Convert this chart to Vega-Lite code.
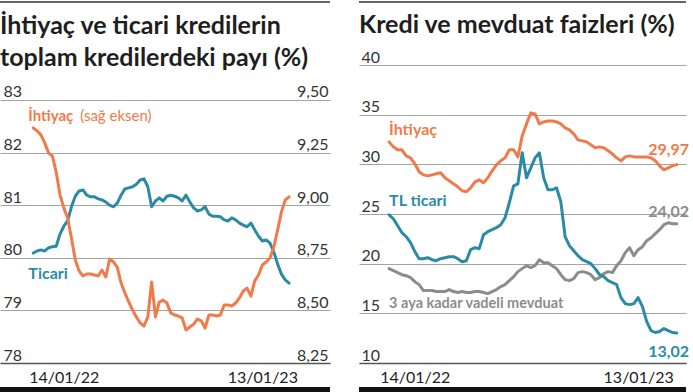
{
  "$schema": "https://vega.github.io/schema/vega-lite/v6.json",
  "background": "white",
  "padding": {"left": 0, "top": 1, "right": 0, "bottom": 0},
  "autosize": {"type": "pad"},
  "spacing": 29,
  "config": {
    "view": {"stroke": null},
    "axis": {"labelFont": "Lato", "labelFontSize": 16, "labelColor": "#333333", "ticks": false, "tickSize": 0, "domain": false},
    "title": {"font": "Lato", "fontSize": 25, "fontWeight": "bold", "color": "#1e1e1e", "anchor": "start", "offset": 0, "baseline": "alphabetic"}
  },
  "datasets": {
    "left": [
      {"d":"2021-11-19","t":80.09,"i":9.367},{"d":"2021-11-26","t":80.13,"i":9.353},{"d":"2021-12-03","t":80.15,"i":9.334},{"d":"2021-12-10","t":80.13,"i":9.296},{"d":"2021-12-17","t":80.19,"i":9.248},{"d":"2021-12-24","t":80.21,"i":9.234},{"d":"2021-12-31","t":80.22,"i":9.158},{"d":"2022-01-07","t":80.45,"i":9.049},{"d":"2022-01-14","t":80.60,"i":8.987},{"d":"2022-01-21","t":80.70,"i":8.939},
      {"d":"2022-01-28","t":80.97,"i":8.844},{"d":"2022-02-04","t":81.17,"i":8.740},{"d":"2022-02-11","t":81.27,"i":8.687},{"d":"2022-02-18","t":81.29,"i":8.664},{"d":"2022-02-25","t":81.19,"i":8.673},{"d":"2022-03-04","t":81.16,"i":8.673},{"d":"2022-03-11","t":81.16,"i":8.668},{"d":"2022-03-18","t":81.12,"i":8.664},{"d":"2022-03-25","t":81.10,"i":8.692},{"d":"2022-04-01","t":81.06,"i":8.659},
      {"d":"2022-04-08","t":81.00,"i":8.744},{"d":"2022-04-15","t":80.97,"i":8.730},{"d":"2022-04-22","t":81.04,"i":8.706},{"d":"2022-04-29","t":81.19,"i":8.630},{"d":"2022-05-06","t":81.31,"i":8.583},{"d":"2022-05-13","t":81.33,"i":8.540},{"d":"2022-05-20","t":81.35,"i":8.502},{"d":"2022-05-27","t":81.40,"i":8.469},{"d":"2022-06-03","t":81.48,"i":8.440},{"d":"2022-06-10","t":81.50,"i":8.426},
      {"d":"2022-06-17","t":81.35,"i":8.469},{"d":"2022-06-24","t":80.97,"i":8.635},{"d":"2022-07-01","t":81.08,"i":8.469},{"d":"2022-07-08","t":81.14,"i":8.540},{"d":"2022-07-15","t":81.08,"i":8.549},{"d":"2022-07-22","t":81.17,"i":8.535},{"d":"2022-07-29","t":81.19,"i":8.488},{"d":"2022-08-05","t":81.17,"i":8.478},{"d":"2022-08-12","t":81.14,"i":8.473},{"d":"2022-08-19","t":81.08,"i":8.464},
      {"d":"2022-08-26","t":81.19,"i":8.407},{"d":"2022-09-02","t":81.06,"i":8.421},{"d":"2022-09-09","t":80.95,"i":8.435},{"d":"2022-09-16","t":80.89,"i":8.459},{"d":"2022-09-23","t":80.91,"i":8.450},{"d":"2022-09-30","t":80.97,"i":8.416},{"d":"2022-10-07","t":80.83,"i":8.478},{"d":"2022-10-14","t":80.79,"i":8.478},{"d":"2022-10-21","t":80.79,"i":8.473},{"d":"2022-10-28","t":80.78,"i":8.478},
      {"d":"2022-11-04","t":80.72,"i":8.526},{"d":"2022-11-11","t":80.70,"i":8.526},{"d":"2022-11-18","t":80.76,"i":8.521},{"d":"2022-11-25","t":80.72,"i":8.535},{"d":"2022-12-02","t":80.66,"i":8.559},{"d":"2022-12-09","t":80.62,"i":8.592},{"d":"2022-12-16","t":80.59,"i":8.606},{"d":"2022-12-23","t":80.66,"i":8.568},{"d":"2022-12-30","t":80.53,"i":8.640},{"d":"2023-01-06","t":80.41,"i":8.668},
      {"d":"2023-01-13","t":80.32,"i":8.716},{"d":"2023-01-20","t":80.34,"i":8.730},{"d":"2023-01-27","t":80.28,"i":8.749},{"d":"2023-02-03","t":80.11,"i":8.801},{"d":"2023-02-10","t":79.88,"i":8.882},{"d":"2023-02-17","t":79.69,"i":8.968},{"d":"2023-02-24","t":79.58,"i":9.025},{"d":"2023-03-03","t":79.52,"i":9.039}
    ],
    "right": [
      {"d":"2021-12-03","i":32.26,"t":24.92,"m":19.50},{"d":"2021-12-10","i":31.76,"t":24.52,"m":19.30},{"d":"2021-12-17","i":31.46,"t":23.82,"m":19.10},{"d":"2021-12-24","i":31.46,"t":23.12,"m":18.89},{"d":"2021-12-31","i":30.85,"t":22.71,"m":18.79},{"d":"2022-01-07","i":30.65,"t":22.11,"m":18.59},{"d":"2022-01-14","i":30.05,"t":21.21,"m":18.19},{"d":"2022-01-21","i":29.25,"t":20.50,"m":17.89},{"d":"2022-01-28","i":28.94,"t":20.50,"m":17.29},{"d":"2022-02-04","i":28.84,"t":20.60,"m":17.29},
      {"d":"2022-02-11","i":28.94,"t":20.40,"m":17.29},{"d":"2022-02-18","i":29.05,"t":20.30,"m":17.19},{"d":"2022-02-25","i":29.15,"t":20.50,"m":17.19},{"d":"2022-03-04","i":28.64,"t":20.60,"m":17.19},{"d":"2022-03-11","i":28.34,"t":20.70,"m":17.39},{"d":"2022-03-18","i":28.04,"t":20.70,"m":17.19},{"d":"2022-03-25","i":27.74,"t":20.50,"m":17.09},{"d":"2022-04-01","i":27.34,"t":20.20,"m":17.19},{"d":"2022-04-08","i":27.24,"t":20.30,"m":17.09},{"d":"2022-04-15","i":27.64,"t":21.41,"m":17.09},
      {"d":"2022-04-22","i":28.24,"t":21.61,"m":17.19},{"d":"2022-04-29","i":28.44,"t":21.51,"m":17.19},{"d":"2022-05-06","i":28.14,"t":22.91,"m":17.09},{"d":"2022-05-13","i":28.64,"t":23.22,"m":16.98},{"d":"2022-05-20","i":29.35,"t":23.42,"m":17.19},{"d":"2022-05-27","i":29.95,"t":23.62,"m":17.39},{"d":"2022-06-03","i":30.35,"t":23.92,"m":17.69},{"d":"2022-06-10","i":30.65,"t":24.62,"m":17.89},{"d":"2022-06-17","i":31.46,"t":26.13,"m":18.29},{"d":"2022-06-24","i":31.46,"t":27.84,"m":18.69},
      {"d":"2022-07-01","i":30.75,"t":28.04,"m":19.20},{"d":"2022-07-08","i":32.86,"t":31.16,"m":19.50},{"d":"2022-07-15","i":34.07,"t":28.64,"m":19.80},{"d":"2022-07-22","i":35.18,"t":29.65,"m":19.60},{"d":"2022-07-29","i":35.08,"t":30.65,"m":19.80},{"d":"2022-08-05","i":34.07,"t":31.16,"m":20.40},{"d":"2022-08-12","i":34.27,"t":28.64,"m":20.10},{"d":"2022-08-19","i":34.37,"t":27.44,"m":20.10},{"d":"2022-08-26","i":34.37,"t":27.44,"m":19.80},{"d":"2022-09-02","i":34.27,"t":27.64,"m":19.50},
      {"d":"2022-09-09","i":34.07,"t":26.23,"m":18.89},{"d":"2022-09-16","i":33.67,"t":22.71,"m":18.39},{"d":"2022-09-23","i":33.47,"t":21.81,"m":18.29},{"d":"2022-09-30","i":33.07,"t":21.31,"m":18.49},{"d":"2022-10-07","i":32.46,"t":20.80,"m":19.10},{"d":"2022-10-14","i":32.36,"t":20.40,"m":19.20},{"d":"2022-10-21","i":32.26,"t":20.20,"m":19.10},{"d":"2022-10-28","i":31.96,"t":20.00,"m":18.89},{"d":"2022-11-04","i":31.66,"t":19.50,"m":18.39},{"d":"2022-11-11","i":31.76,"t":18.89,"m":18.59},
      {"d":"2022-11-18","i":31.66,"t":18.69,"m":18.99},{"d":"2022-11-25","i":31.36,"t":18.29,"m":19.20},{"d":"2022-12-02","i":31.06,"t":18.09,"m":19.10},{"d":"2022-12-09","i":30.65,"t":17.89,"m":19.80},{"d":"2022-12-16","i":30.35,"t":16.58,"m":20.30},{"d":"2022-12-23","i":30.75,"t":15.98,"m":21.11},{"d":"2022-12-30","i":30.85,"t":15.88,"m":21.61},{"d":"2023-01-06","i":30.75,"t":15.98,"m":20.80},{"d":"2023-01-13","i":30.75,"t":16.58,"m":21.41},{"d":"2023-01-20","i":30.75,"t":15.68,"m":21.71},
      {"d":"2023-01-27","i":30.75,"t":14.17,"m":22.31},{"d":"2023-02-03","i":30.65,"t":13.27,"m":22.61},{"d":"2023-02-10","i":30.35,"t":13.07,"m":23.02},{"d":"2023-02-17","i":29.85,"t":13.17,"m":23.42},{"d":"2023-02-24","i":29.45,"t":13.47,"m":23.92},{"d":"2023-03-03","i":29.65,"t":13.27,"m":24.12},{"d":"2023-03-10","i":29.85,"t":13.07,"m":24.02},{"d":"2023-03-17","i":29.97,"t":13.02,"m":24.02}
    ]
  },
  "hconcat": [
    {
      "width": 330,
      "height": 298,
      "title": {"text": ["İhtiyaç ve ticari kredilerin", "toplam kredilerdeki payı (%)"], "lineHeight": 32, "dy": 73.5},
      "layer": [
        {
          "layer": [
            {
              "data": {"name": "left"},
              "mark": {"type": "line", "color": "#2b8ba6", "strokeWidth": 3, "strokeJoin": "round", "strokeCap": "round"},
              "encoding": {
                "x": {"field": "d", "type": "temporal", "title": null,
                  "scale": {"type": "utc", "domain": [{"year": 2021, "month": 9, "date": 19, "utc": true}, {"year": 2023, "month": 5, "date": 17, "utc": true}]},
                  "axis": {"values": [{"year": 2022, "month": 1, "date": 14, "utc": true}, {"year": 2023, "month": 1, "date": 13, "utc": true}], "labelExpr": "utcFormat(datum.value, '%d/%m/%y')", "domain": true, "domainColor": "#555555", "domainWidth": 1.5, "grid": false, "labelPadding": 6, "labelColor": "#222222", "zindex": 1}},
                "y": {"field": "t", "type": "quantitative", "title": null,
                  "scale": {"domain": [78, 83.665], "nice": false, "zero": false},
                  "axis": {"orient": "left", "values": [78, 79, 80, 81, 82, 83], "grid": true, "gridColor": "#a3a3a3", "gridWidth": 1, "labelAlign": "left", "labelPadding": -3, "labelBaseline": "alphabetic", "labelOffset": -3}}
              }
            },
            {
              "data": {"values": [{}]},
              "mark": {"type": "rect", "color": "#333333"},
              "encoding": {"y": {"datum": 84.848}, "y2": {"datum": 84.877}}
            },
            {
              "data": {"values": [{}]},
              "mark": {"type": "rect", "color": "#111111"},
              "encoding": {"y": {"datum": 77.43}, "y2": {"datum": 77.544}}
            },
            {
              "data": {"values": [{}]},
              "mark": {"type": "text", "text": "İhtiyaç", "font": "Lato", "fontSize": 15, "fontWeight": "bold", "color": "#f07a4a", "align": "left", "baseline": "alphabetic"},
              "encoding": {"x": {"datum": {"year": 2021, "month": 11, "date": 10, "utc": true}, "type": "temporal"}, "y": {"datum": 82.6}}
            },
            {
              "data": {"values": [{}]},
              "mark": {"type": "text", "text": "(sağ eksen)", "font": "Lato", "fontSize": 15, "color": "#f07a4a", "align": "left", "baseline": "alphabetic"},
              "encoding": {"x": {"datum": {"year": 2022, "month": 2, "date": 13, "utc": true}, "type": "temporal"}, "y": {"datum": 82.6}}
            },
            {
              "data": {"values": [{}]},
              "mark": {"type": "text", "text": "Ticari", "font": "Lato", "fontSize": 16, "fontWeight": "bold", "color": "#2b8ba6", "align": "left", "baseline": "alphabetic"},
              "encoding": {"x": {"datum": {"year": 2021, "month": 11, "date": 10, "utc": true}, "type": "temporal"}, "y": {"datum": 79.6}}
            }
          ]
        },
        {
          "data": {"name": "left"},
          "mark": {"type": "line", "color": "#f07a4a", "strokeWidth": 3, "strokeJoin": "round", "strokeCap": "round"},
          "encoding": {
            "x": {"field": "d", "type": "temporal"},
            "y": {"field": "i", "type": "quantitative", "title": null,
              "scale": {"domain": [8.25, 9.666], "nice": false, "zero": false},
              "axis": {"orient": "right", "values": [8.25, 8.5, 8.75, 9.0, 9.25, 9.5], "labelExpr": "replace(format(datum.value, '.2f'), '.', ',')", "grid": false, "labelAlign": "right", "labelPadding": -2, "labelBaseline": "alphabetic", "labelOffset": -3}}
          }
        }
      ],
      "resolve": {"scale": {"y": "independent"}, "axis": {"y": "independent"}}
    },
    {
      "width": 327,
      "height": 298,
      "title": {"text": "Kredi ve mevduat faizleri (%)", "dy": 40.5},
      "layer": [
        {
          "data": {"name": "right"},
          "mark": {"type": "line", "color": "#8c8c8c", "strokeWidth": 3, "strokeJoin": "round", "strokeCap": "round"},
          "encoding": {
            "x": {"field": "d", "type": "temporal", "title": null,
              "scale": {"type": "utc", "domain": [{"year": 2021, "month": 10, "date": 15, "utc": true}, {"year": 2023, "month": 4, "date": 1, "utc": true}]},
              "axis": {"values": [{"year": 2022, "month": 1, "date": 14, "utc": true}, {"year": 2023, "month": 1, "date": 13, "utc": true}], "labelExpr": "utcFormat(datum.value, '%d/%m/%y')", "domain": true, "domainColor": "#555555", "domainWidth": 1.5, "grid": false, "labelPadding": 6, "labelColor": "#222222", "zindex": 1}},
            "y": {"field": "m", "type": "quantitative", "title": null,
              "scale": {"domain": [10, 40], "nice": false, "zero": false},
              "axis": {"orient": "left", "values": [10, 15, 20, 25, 30, 35, 40], "grid": true, "gridColor": "#a3a3a3", "gridWidth": 1, "labelAlign": "left", "labelPadding": -2, "labelBaseline": "alphabetic", "labelOffset": -3}}
          }
        },
        {
          "data": {"name": "right"},
          "mark": {"type": "line", "color": "#2b8ba6", "strokeWidth": 3, "strokeJoin": "round", "strokeCap": "round"},
          "encoding": {"x": {"field": "d", "type": "temporal"}, "y": {"field": "t", "type": "quantitative"}}
        },
        {
          "data": {"name": "right"},
          "mark": {"type": "line", "color": "#f07a4a", "strokeWidth": 3, "strokeJoin": "round", "strokeCap": "round"},
          "encoding": {"x": {"field": "d", "type": "temporal"}, "y": {"field": "i", "type": "quantitative"}}
        },
        {
          "data": {"values": [{}]},
          "mark": {"type": "rect", "color": "#333333"},
          "encoding": {"y": {"datum": 46.265}, "y2": {"datum": 46.415}}
        },
        {
          "data": {"values": [{}]},
          "mark": {"type": "rect", "color": "#111111"},
          "encoding": {"y": {"datum": 6.98}, "y2": {"datum": 7.584}}
        },
        {
          "data": {"values": [{}]},
          "mark": {"type": "text", "text": "İhtiyaç", "font": "Lato", "fontSize": 16, "fontWeight": "bold", "color": "#f07a4a", "align": "left", "baseline": "alphabetic"},
          "encoding": {"x": {"datum": {"year": 2021, "month": 12, "date": 3, "utc": true}, "type": "temporal"}, "y": {"datum": 32.96}}
        },
        {
          "data": {"values": [{}]},
          "mark": {"type": "text", "text": "TL ticari", "font": "Lato", "fontSize": 16, "fontWeight": "bold", "color": "#2b8ba6", "align": "left", "baseline": "alphabetic"},
          "encoding": {"x": {"datum": {"year": 2021, "month": 12, "date": 3, "utc": true}, "type": "temporal"}, "y": {"datum": 25.83}}
        },
        {
          "data": {"values": [{}]},
          "mark": {"type": "text", "text": "3 aya kadar vadeli mevduat", "font": "Lato", "fontSize": 14.5, "fontWeight": "bold", "color": "#8c8c8c", "align": "left", "baseline": "alphabetic"},
          "encoding": {"x": {"datum": {"year": 2021, "month": 12, "date": 3, "utc": true}, "type": "temporal"}, "y": {"datum": 15.58}}
        },
        {
          "data": {"values": [{}]},
          "mark": {"type": "text", "text": "29,97", "font": "Lato", "fontSize": 16, "fontWeight": "bold", "color": "#f07a4a", "align": "right", "baseline": "alphabetic"},
          "encoding": {"x": {"datum": {"year": 2023, "month": 4, "date": 6, "utc": true}, "type": "temporal"}, "y": {"datum": 30.95}}
        },
        {
          "data": {"values": [{}]},
          "mark": {"type": "text", "text": "24,02", "font": "Lato", "fontSize": 16, "fontWeight": "bold", "color": "#8c8c8c", "align": "right", "baseline": "alphabetic"},
          "encoding": {"x": {"datum": {"year": 2023, "month": 4, "date": 6, "utc": true}, "type": "temporal"}, "y": {"datum": 24.72}}
        },
        {
          "data": {"values": [{}]},
          "mark": {"type": "text", "text": "13,02", "font": "Lato", "fontSize": 16, "fontWeight": "bold", "color": "#2b8ba6", "align": "right", "baseline": "alphabetic"},
          "encoding": {"x": {"datum": {"year": 2023, "month": 4, "date": 6, "utc": true}, "type": "temporal"}, "y": {"datum": 10.65}}
        }
      ]
    }
  ]
}
